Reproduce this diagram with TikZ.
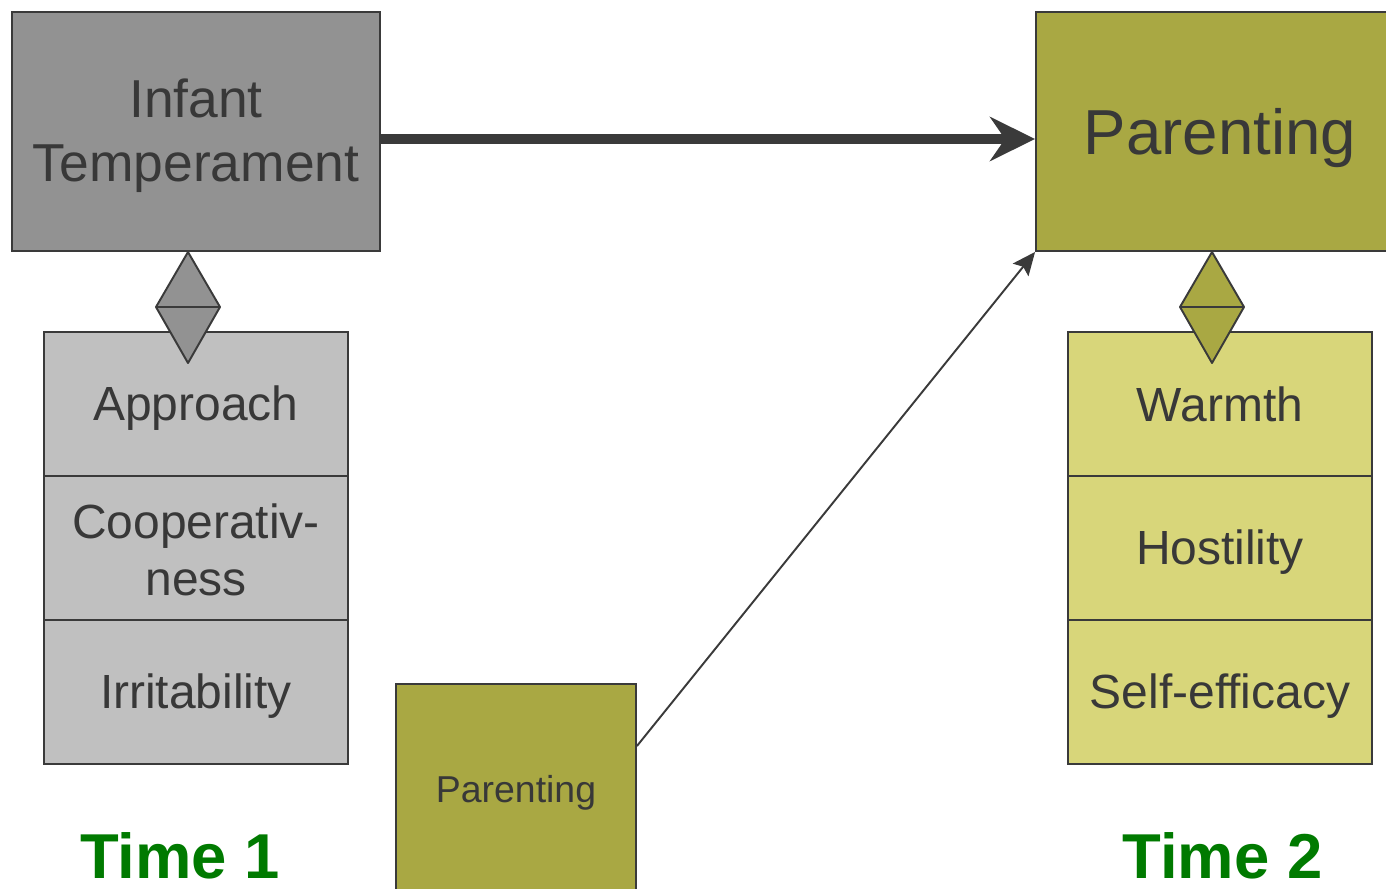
\documentclass[tikz,border=0pt]{standalone}
\usepackage{fontspec}
\setmainfont{Liberation Sans}
\usetikzlibrary{arrows.meta}
\definecolor{edge}{HTML}{3A3A3A}
\definecolor{txt}{HTML}{383838}
\definecolor{gbox}{HTML}{929292}
\definecolor{lgbox}{HTML}{C0C0C0}
\definecolor{obox}{HTML}{A9A843}
\definecolor{ybox}{HTML}{D8D67A}
\definecolor{tgreen}{HTML}{007A00}
\tikzset{
  box/.style={draw=edge, line width=1.1pt, inner sep=0pt},
  boxtext/.style={text=txt, align=center, inner sep=0pt},
  bigbox/.style={box, minimum width=7.36cm, minimum height=4.78cm},
  listbox/.style={box, minimum width=6.08cm, minimum height=2.88cm},
  listtext/.style={boxtext, font=\fontsize{27.3}{32.4}\selectfont},
  dia/.style={draw=edge, line width=1.1pt, line join=round},
  timelbl/.style={text=tgreen, font=\fontsize{36.1}{40}\selectfont\bfseries, inner sep=0pt, text depth=0pt}
}
\begin{document}
\begin{tikzpicture}[x=0.02cm, y=-0.02cm]
\useasboundingbox (0,0) rectangle (1386,889);
\clip (0,0) rectangle (1386,889);
\node[bigbox, fill=gbox] (it) at (196,131.5) {};
\node[boxtext, font=\fontsize{30.4}{36.2}\selectfont] (itt) at ([yshift=-0.09cm]it.center) {Infant\\Temperament};
\node[bigbox, fill=obox] (p2) at (1220,131.5) {};
\node[boxtext, font=\fontsize{36.2}{40}\selectfont] (p2t) at ([yshift=-0.14cm]p2.center) {Parenting};
\node[listbox, fill=lgbox] (ap) at (196,404) {};
\node[listbox, fill=lgbox] (co) at (196,548) {};
\node[listbox, fill=lgbox] (ir) at (196,692) {};
\node[listbox, fill=ybox] (wa) at (1220,404) {};
\node[listbox, fill=ybox] (ho) at (1220,548) {};
\node[listbox, fill=ybox] (se) at (1220,692) {};
\node[listtext] (apt) at ([yshift=-0.08cm]ap.center) {Approach};
\node[listtext] (cot) at ([yshift=-0.04cm]co.center) {Cooperativ-\\ness};
\node[listtext] (irt) at ([yshift=-0.08cm]ir.center) {Irritability};
\node[listtext] (wat) at ([yshift=0cm]wa.center) {Warmth};
\node[listtext] (hot) at ([yshift=-0.08cm]ho.center) {Hostility};
\node[listtext] (set) at ([yshift=-0.08cm]se.center) {Self-efficacy};
\node[box, fill=obox, minimum width=4.8cm, minimum height=4.2cm] (p1) at (516,789) {};
\node[boxtext, font=\fontsize{21.3}{25}\selectfont] (p1t) at ([yshift=-0.08cm]p1.center) {Parenting};
% diamonds
\draw[dia, fill=gbox] (188,252) -- (220,307) -- (188,363) -- (156,307) -- cycle;
\draw[dia] (156,307) -- (220,307);
\draw[dia, fill=obox] (1212,252) -- (1244,307) -- (1212,363) -- (1180,307) -- cycle;
\draw[dia] (1180,307) -- (1244,307);
% arrows
\draw[edge, line width=5.7pt, -{Stealth[length=0.9cm, width=0.88cm, inset=0.3cm]}]
  ([yshift=-0.15cm]it.east) -- ([yshift=-0.15cm]p2.west);
\draw[edge, line width=1.1pt, -{Stealth[length=0.46cm, width=0.4cm, inset=0.08cm]}]
  ([yshift=0.86cm]p1.east) -- (p2.south west);
\node[timelbl, anchor=base] (t1) at (180,878) {Time 1};
\node[timelbl, anchor=base] (t2) at (1222.5,878) {Time 2};
\end{tikzpicture}
\end{document}
